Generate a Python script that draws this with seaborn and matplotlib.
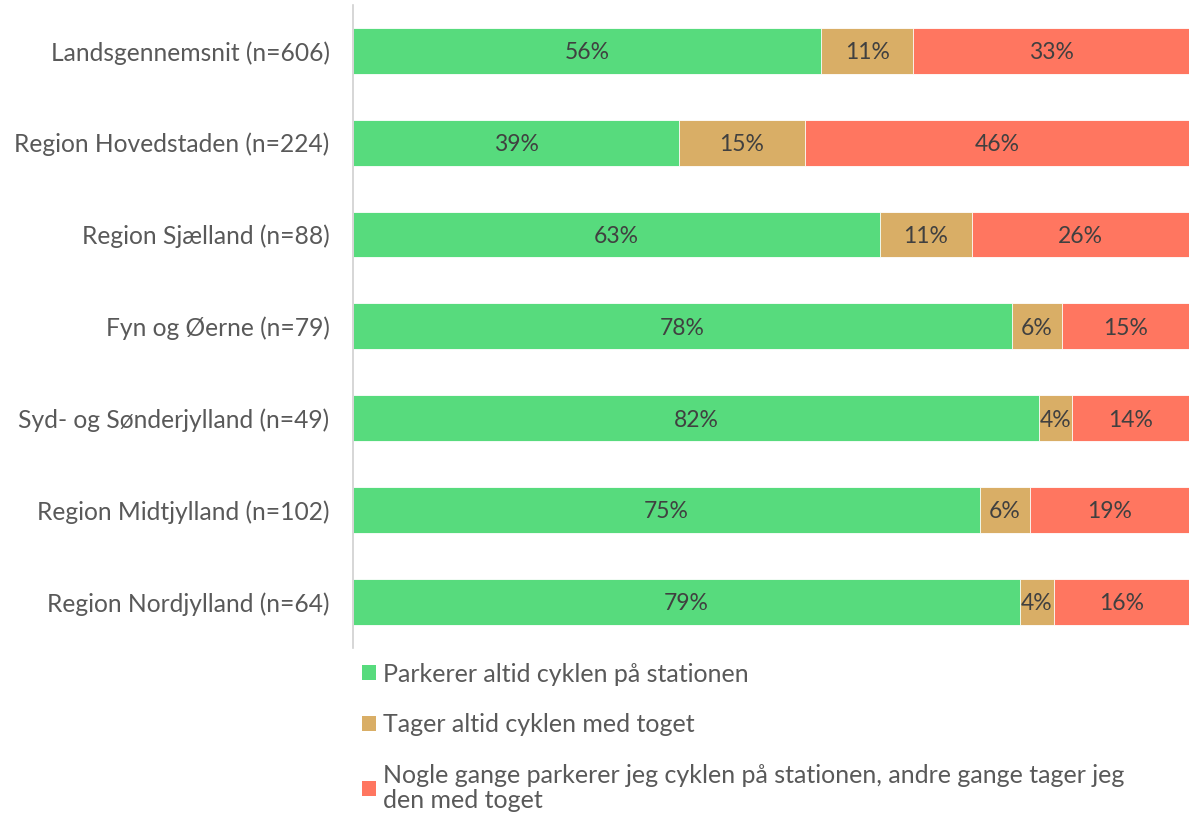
import seaborn as sns
import matplotlib.pyplot as plt
import pandas as pd
from matplotlib.patches import Patch

regions = ['Landsgennemsnit (n=606)', 'Region Hovedstaden (n=224)', 'Region Sjælland (n=88)',
           'Fyn og Øerne (n=79)', 'Syd- og Sønderjylland (n=49)', 'Region Midtjylland (n=102)',
           'Region Nordjylland (n=64)']
parkerer = [56, 39, 63, 78, 82, 75, 79]
tager = [11, 15, 11, 6, 4, 6, 4]
nogle = [33, 46, 26, 15, 14, 19, 16]

series = ['Parkerer altid cyklen på stationen', 'Tager altid cyklen med toget',
          'Nogle gange parkerer jeg cyklen på stationen, andre gange tager jeg\nden med toget']
colors = ['#57DB7D', '#D9AE66', '#FF7660']

df = pd.DataFrame({'region': regions, 'p': parkerer, 't': tager, 'n': nogle})
total = df[['p', 't', 'n']].sum(axis=1)
# share of row (some rows sum to 99)
df['c1'] = df['p'] / total * 100
df['c2'] = (df['p'] + df['t']) / total * 100
df['c3'] = 100.0

sns.set_style('white')
plt.rcParams['font.family'] = ['Lato', 'DejaVu Sans']

fig = plt.figure(figsize=(11.89, 8.21), dpi=100)
ax = fig.add_axes([0.297, 0.211, 0.703, 0.783])

# stacked by overlaying cumulative bars
for col, c in zip(['c3', 'c2', 'c1'], colors[::-1]):
    sns.barplot(data=df, y='region', x=col, color=c, orient='h', width=0.5,
                saturation=1, edgecolor='white', linewidth=0.6, ax=ax)

for i, row in df.iterrows():
    starts = [0, row['c1'], row['c2']]
    ends = [row['c1'], row['c2'], row['c3']]
    vals = [row['p'], row['t'], row['n']]
    for s, e, v in zip(starts, ends, vals):
        ax.text((s + e) / 2, i + 0.02, f'{v}%', ha='center', va='center',
                fontsize=16.5, color='#404040')

ax.set_xlim(0, 100)
ax.set_ylim(6.5, -0.5)
ax.set_xlabel('')
ax.set_ylabel('')
ax.set_xticks([])
ax.tick_params(axis='y', length=0, pad=17, labelsize=17.7, labelcolor='#595959')
for side in ['top', 'right', 'bottom']:
    ax.spines[side].set_visible(False)
ax.spines['left'].set_color('#D0D0D0')
ax.spines['left'].set_linewidth(1.2)

handles = [Patch(facecolor=c, edgecolor='none') for c in colors]
leg = fig.legend(handles, series, loc='upper left', bbox_to_anchor=(0.296, 0.205),
                 frameon=False, fontsize=18, labelcolor='#595959', handlelength=0.55,
                 handleheight=0.55, handletextpad=0.3, labelspacing=1.1, borderaxespad=0)
for t in leg.get_texts():
    t.set_linespacing(1.12)

plt.savefig('out.png', dpi=100)
